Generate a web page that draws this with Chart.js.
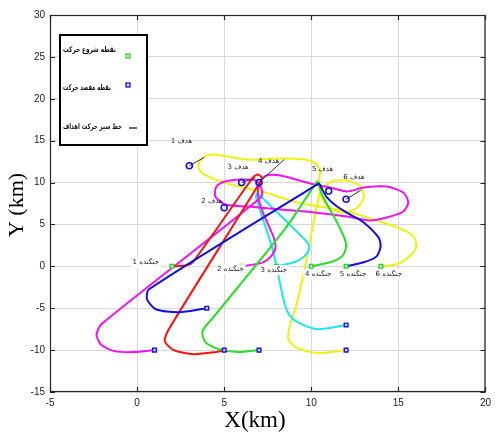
<!DOCTYPE html>
<html><head><meta charset="utf-8">
<script src="https://cdn.jsdelivr.net/npm/chart.js@4/dist/chart.umd.min.js"></script>
<style>html,body{margin:0;padding:0;background:#fff}#wrap{width:496px;height:434px}</style>
</head><body><div id="wrap"><canvas id="c" width="496" height="434"></canvas></div>
<script>
// ---- axes ----
const xTicks = [-5, 0, 5, 10, 15, 20];
const yTicks = [-15, -10, -5, 0, 5, 10, 15, 20, 25, 30];

// ---- names ----
const fighterNames = ['جنگنده 1','جنگنده 2','جنگنده 3','جنگنده 4','جنگنده 5','جنگنده 6'];
const targetNames = ['هدف 1','هدف 2','هدف 3','هدف 4','هدف 5','هدف 6'];
const legendLabels = ['نقطه شروع حرکت','نقطه مقصد حرکت','خط سیر حرکت اهداف'];

// ---- points ----
const startX = [2, 6, 8, 10, 12, 14];
const startY = [0, 0, 0, 0, 0, 0];
const destX = [1, 4, 5, 7, 12, 12];
const destY = [-10, -5, -10, -10, -7, -10];
const targetX = [3, 5, 6, 7, 11, 12];
const targetY = [12, 7, 10, 10, 9, 8];

// ---- target motion (short black lines) ----
const tm1X = [3, 3.85], tm1Y = [12, 13];
const tm3X = [6, 6.8], tm3Y = [10, 10.55];
const tm4X = [7, 8.45], tm4Y = [10, 12.75];
const tm6X = [12, 12.85], tm6Y = [8, 9.1];

// ---- fighter paths ----
const redX = [2, 2.84, 3.24, 6.65, 6.93, 7.16, 7.05, 1.82, 1.59, 2.1, 3.24, 4.49, 5];
const redY = [0, 0.12, 0.6, 10.6, 10.95, 10.6, 10, -7.5, -8.93, -10, -10.48, -10.24, -10];

const magX = [6, 7.22, 7.78, 7.95, 7.84, 7.22, 6.93, 7.05, 7.39, 8.24, 10.17, 11.08, 12.05, 13.01, 14.32, 15.28, 15.57, 15.28, 14.32, 13.35, 12.05, 10.17, 8.24, 6.36, 5.06, 4.49, 4.55, 5.06, 5.97, 6.82, 7.16, 7.1, -2.05, -2.33, -2.05, -1.31, -0.17, 1];
const magY = [0, 0.48, 1.43, 2.38, 3.45, 6.43, 8.57, 10, 10.83, 10.83, 9.76, 9.4, 8.93, 9.4, 9.52, 8.81, 7.62, 6.55, 5.83, 5.48, 5.95, 6.43, 6.79, 7.14, 7.38, 8.33, 9.52, 10.12, 10.36, 10.24, 9.17, 8.21, -6.9, -8.21, -9.4, -10.12, -10.24, -10];

const cyanX = [8, 9.03, 9.6, 9.89, 9.72, 7.05, 6.88, 6.82, 7.78, 8.47, 8.75, 9.2, 10.34, 12];
const cyanY = [0, 0.48, 1.19, 2.14, 2.98, 8.45, 8.69, 8.21, 2.02, -4.52, -5.83, -6.67, -7.5, -7];

const greenX = [10, 11.08, 11.76, 11.99, 11.93, 11.48, 10.91, 10.57, 10.45, 10.34, 10.17, 8.47, 4.38, 3.75, 3.92, 4.66, 5.8, 7];
const greenY = [0, 0.48, 1.19, 2.26, 3.21, 5.24, 7.38, 8.81, 9.76, 10.12, 9.64, 4.4, -6.07, -7.74, -9.05, -9.88, -10.24, -10];

const blueX = [12, 13.01, 13.75, 13.98, 13.86, 13.01, 12.22, 11.48, 10.91, 10.63, 10.45, 10.23, 0.68, 0.57, 1.08, 2.39, 4];
const blueY = [0, 0.48, 1.19, 2.38, 3.45, 5.24, 6.19, 7.14, 8.21, 9.17, 9.88, 9.64, -2.74, -3.93, -5.12, -5.48, -5];

const yellowX = [14, 14.89, 15.57, 16.02, 15.91, 15.45, 14.6, 12.05, 9.2, 7.33, 5.4, 4.49, 3.69, 3.52, 3.69, 4.2, 5.23, 6.36, 8.52, 9.6, 10.17, 10.51, 10.45, 10.51, 10.91, 11.65, 12.5, 13.01, 12.84, 12.05, 11.19, 10.57, 10.34, 10.11, 9.89, 9.55, 9.15, 8.75, 8.69, 9.09, 10.34, 12];
const yellowY = [0, 0.24, 1.07, 2.26, 3.45, 4.17, 4.88, 6.55, 7.62, 8.81, 9.76, 10.36, 11.19, 12.02, 12.74, 13.33, 13.1, 12.74, 12.86, 12.74, 12.38, 11.55, 10.36, 8.57, 7.26, 6.43, 6.79, 8.1, 9.52, 10.24, 10.12, 9.17, 7.38, 5.0, 2.62, -0.95, -4.52, -7.26, -8.69, -9.64, -10.36, -10];

// ---- annotation anchors (data units) ----
const fighterLabelX = [0.5, 5.35, 7.85, 10.4, 12.4, 14.45];
const fighterLabelY = [0.45, -0.35, -0.45, -0.95, -0.95, -0.95];
const targetLabelX = [2.55, 4.3, 5.8, 7.55, 10.65, 12.45];
const targetLabelY = [14.9, 7.75, 11.8, 12.6, 11.55, 10.7];

const pts = (xs, ys) => xs.map((v, i) => ({x: v, y: ys[i]}));
const pathDs = (xs, ys, color) => ({data: pts(xs, ys), showLine: true, borderColor: color, borderWidth: 2, pointRadius: 0, tension: 0.25, fill: false});
const motionDs = (xs, ys) => ({data: pts(xs, ys), showLine: true, borderColor: '#333', borderWidth: 1, pointRadius: 0, tension: 0});

const datasets = [
  {data: pts(targetX, targetY), pointStyle: 'circle', pointRadius: 3, borderColor: '#1414d8', borderWidth: 1.6, backgroundColor: 'rgba(255,255,255,0)', showLine: false},
  {data: pts(destX, destY), pointStyle: 'rect', pointRadius: 2.6, borderColor: '#1414d8', borderWidth: 1.4, backgroundColor: '#d8d8ff', showLine: false},
  {data: pts(startX, startY), pointStyle: 'rect', pointRadius: 2.6, borderColor: '#2ecc2e', borderWidth: 1.4, backgroundColor: '#d8ffd8', showLine: false},
  motionDs(tm1X, tm1Y), motionDs(tm3X, tm3Y), motionDs(tm4X, tm4Y), motionDs(tm6X, tm6Y),
  pathDs(blueX, blueY, '#1010e0'),
  pathDs(greenX, greenY, '#2bdc2b'),
  pathDs(redX, redY, '#ff1010'),
  pathDs(magX, magY, '#f014f0'),
  pathDs(cyanX, cyanY, '#22e4ec'),
  pathDs(yellowX, yellowY, '#eef214'),
];

function fitText(ctx, t, x0, y0, maxW) {
  const w = ctx.measureText(t).width;
  const s = Math.min(1, maxW / w);
  ctx.save();
  ctx.translate(x0, y0);
  ctx.scale(s, 1);
  ctx.fillText(t, 0, 0);
  ctx.restore();
}

const overlay = {
  id: 'overlay',
  afterDraw(chart) {
    const {ctx, chartArea: a, scales: {x, y}} = chart;
    ctx.save();
    // frame and inward ticks
    ctx.strokeStyle = '#262626';
    ctx.lineWidth = 1.2;
    ctx.strokeRect(a.left + 0.5, a.top + 0.5, a.right - a.left - 1, a.bottom - a.top - 1);
    ctx.beginPath();
    xTicks.forEach(v => {
      const p = Math.round(x.getPixelForValue(v)) + 0.5;
      ctx.moveTo(p, a.bottom); ctx.lineTo(p, a.bottom - 5);
      ctx.moveTo(p, a.top); ctx.lineTo(p, a.top + 5);
    });
    yTicks.forEach(v => {
      const p = Math.round(y.getPixelForValue(v)) + 0.5;
      ctx.moveTo(a.left, p); ctx.lineTo(a.left + 5, p);
      ctx.moveTo(a.right, p); ctx.lineTo(a.right - 5, p);
    });
    ctx.stroke();

    // fighter labels
    ctx.direction = 'rtl';
    ctx.textAlign = 'center';
    ctx.textBaseline = 'middle';
    ctx.font = '7px "DejaVu Sans", sans-serif';
    fighterNames.forEach((t, i) => {
      const px = x.getPixelForValue(fighterLabelX[i]);
      const py = y.getPixelForValue(fighterLabelY[i]);
      const w = ctx.measureText(t).width;
      ctx.fillStyle = '#fff';
      ctx.fillRect(px - w / 2 - 2, py - 5, w + 4, 10);
      ctx.fillStyle = '#222';
      ctx.fillText(t, px, py);
    });
    // target labels
    ctx.font = '7px "DejaVu Sans", sans-serif';
    ctx.fillStyle = '#222';
    targetNames.forEach((t, i) => {
      ctx.fillText(t, x.getPixelForValue(targetLabelX[i]), y.getPixelForValue(targetLabelY[i]));
    });

    // legend box
    const lx = a.left + 10, ly = a.top + 20, lw = 87, lh = 110;
    ctx.fillStyle = '#fff';
    ctx.fillRect(lx, ly, lw, lh);
    ctx.strokeStyle = '#000';
    ctx.lineWidth = 2;
    ctx.strokeRect(lx, ly, lw, lh);
    ctx.font = 'bold 8px "DejaVu Sans", sans-serif';
    ctx.textAlign = 'left';
    ctx.direction = 'ltr';
    ctx.fillStyle = '#111';
    const rows = [15, 53, 92];
    const maxW = [53, 48, 59];
    legendLabels.forEach((t, i) => fitText(ctx, t, lx + 3, ly + rows[i], maxW[i]));
    // legend markers
    ctx.lineWidth = 1.3;
    ctx.strokeStyle = '#2ecc2e'; ctx.fillStyle = '#d8ffd8';
    ctx.fillRect(lx + 66, ly + 19, 4, 4); ctx.strokeRect(lx + 66, ly + 19, 4, 4);
    ctx.strokeStyle = '#1414d8'; ctx.fillStyle = '#d8d8ff';
    ctx.fillRect(lx + 66, ly + 48, 4, 4); ctx.strokeRect(lx + 66, ly + 48, 4, 4);
    ctx.strokeStyle = '#111'; ctx.lineWidth = 1.3;
    ctx.beginPath(); ctx.moveTo(lx + 69, ly + 93); ctx.lineTo(lx + 77, ly + 93); ctx.stroke();

    // axis titles
    ctx.fillStyle = '#000';
    ctx.textAlign = 'center';
    ctx.textBaseline = 'middle';
    ctx.font = '23px "Liberation Serif", "Times New Roman", serif';
    ctx.fillText('X(km)', 255, 421);
    ctx.save();
    ctx.translate(17, 205);
    ctx.rotate(-Math.PI / 2);
    ctx.font = '22px "Liberation Serif", "Times New Roman", serif';
    ctx.fillText('Y (km)', 0, 0);
    ctx.restore();
    ctx.restore();
  }
};

const tickFont = {family: '"Liberation Sans Narrow", "Arial Narrow", "Liberation Sans", sans-serif', size: 10};

new Chart(document.getElementById('c'), {
  type: 'scatter',
  data: {datasets},
  options: {
    responsive: false,
    animation: false,
    devicePixelRatio: 1,
    layout: {padding: {left: 0, right: 6, top: 15, bottom: 0}},
    plugins: {legend: {display: false}, tooltip: {enabled: false}},
    scales: {
      x: {
        type: 'linear', min: -5, max: 20,
        afterBuildTicks: s => { s.ticks = xTicks.map(v => ({value: v})); },
        afterFit: s => { s.height = 42; },
        grid: {color: '#d9d9d9', lineWidth: 1, drawTicks: false},
        border: {display: false},
        ticks: {padding: 5, font: tickFont, color: '#222', maxRotation: 0}
      },
      y: {
        type: 'linear', min: -15, max: 30,
        afterBuildTicks: s => { s.ticks = yTicks.map(v => ({value: v})); },
        afterFit: s => { s.width = 50; },
        grid: {color: '#d9d9d9', lineWidth: 1, drawTicks: false},
        border: {display: false},
        ticks: {padding: 5, font: tickFont, color: '#222'}
      }
    }
  },
  plugins: [overlay]
});
</script>
</body></html>
